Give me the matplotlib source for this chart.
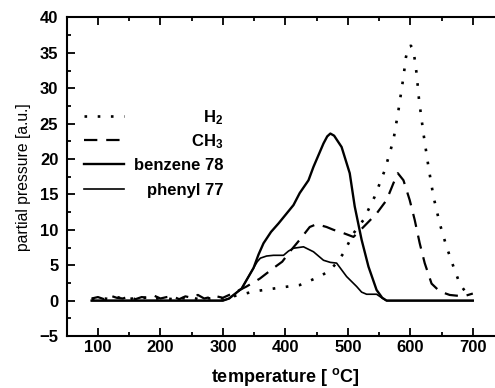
import numpy as np
import matplotlib
matplotlib.use('Agg')
import matplotlib.pyplot as plt
from matplotlib.ticker import MultipleLocator

plt.rcParams['font.family'] = 'Liberation Sans'
plt.rcParams['mathtext.fontset'] = 'custom'
plt.rcParams['mathtext.rm'] = 'Liberation Sans:bold'
plt.rcParams['mathtext.it'] = 'Liberation Sans:bold'
plt.rcParams['mathtext.bf'] = 'Liberation Sans:bold'

# ── data ──────────────────────────────────────────────────────────────────
t_benz = [90, 300, 310, 330, 349, 357, 365, 377, 389, 413, 423, 437, 445, 461,
          467, 472, 478, 490, 503, 511, 522, 533, 546, 555, 562, 700]
p_benz = [0, 0, 0.3, 1.7, 4.6, 6.5, 8.1, 9.7, 10.9, 13.5, 15.2, 17.0, 18.9, 22.2,
          23.2, 23.6, 23.3, 21.7, 18.0, 13.3, 8.6, 4.8, 1.5, 0.4, 0, 0]

t_phen = [90, 300, 310, 330, 345, 355, 360, 370, 381, 397, 405, 413, 429, 445,
          461, 472, 482, 498, 514, 522, 530, 546, 556, 562, 700]
p_phen = [0, 0, 0.3, 1.7, 4.0, 5.5, 6.0, 6.3, 6.4, 6.4, 7.0, 7.4, 7.6, 6.9,
          5.7, 5.4, 5.3, 3.4, 2.0, 1.2, 0.9, 0.9, 0.3, 0, 0]

t_base = [90, 100, 110, 120, 130, 140, 150, 160, 170, 180, 190, 200, 210, 220,
          230, 240, 250, 260, 270, 280, 290, 300]
h2_base = [0.2, 0.4, 0.3, 0.2, 0.5, 0.3, 0.2, 0.4, 0.3, 0.5, 0.2, 0.4, 0.3, 0.2,
           0.4, 0.3, 0.5, 0.2, 0.4, 0.3, 0.4, 0.3]
ch3_base = [0.3, 0.5, 0.2, 0.7, 0.4, 0.3, 0.6, 0.2, 0.5, 0.4, 0.7, 0.3, 0.5, 0.6,
            0.2, 0.6, 0.4, 0.8, 0.3, 0.5, 0.6, 0.4]

t_h2 = t_base + [310, 327, 350, 381, 405, 423, 455, 470, 482, 493, 509, 525, 543,
                 559, 573, 581, 589, 593, 597, 601, 605, 610, 614, 621, 629, 637,
                 647, 658, 669, 679, 690, 700]
p_h2 = h2_base + [0.5, 0.8, 1.3, 1.7, 2.0, 2.2, 3.4, 4.2, 5.3, 6.7, 9.5, 11.4, 14.7,
                  18.4, 22.7, 26.9, 31.6, 34.4, 35.9, 36.0, 35.4, 32.1, 28.3, 23.6,
                  18.9, 14.7, 10.9, 7.6, 4.8, 2.4, 1.0, 1.0]

t_ch3 = t_base + [310, 320, 338, 359, 381, 395, 407, 423, 439, 450, 466, 477, 488,
                  509, 525, 546, 562, 573, 580, 589, 599, 607, 615, 623, 634, 647,
                  663, 685, 700]
p_ch3 = ch3_base + [0.8, 1.2, 2.0, 3.1, 4.6, 5.5, 6.9, 8.6, 10.4, 10.8, 10.4, 10.0,
                    9.7, 9.0, 10.4, 12.3, 14.2, 16.6, 18.0, 17.0, 14.2, 11.4, 8.1,
                    5.3, 2.4, 1.3, 0.8, 0.6, 1.0]

labels = ['H$_2$', 'CH$_3$', 'benzene 78', 'phenyl 77']

# ── figure ────────────────────────────────────────────────────────────────
fig = plt.figure(figsize=(4.95, 3.88), dpi=100)
ax = fig.add_axes([0.1347, 0.134, 0.8836, 0.821])

styles = [dict(lw=1.9, ls=(0, (1, 4))),
          dict(lw=1.6, ls=(0, (6, 4))),
          dict(lw=1.7, ls='-'),
          dict(lw=1.2, ls='-')]
series = [(t_h2, p_h2), (t_ch3, p_ch3), (t_benz, p_benz), (t_phen, p_phen)]
for (t, p), st in zip(series, styles):
    ax.plot(t, p, color='black', **st)

ax.set_xlim(50, 750)
ax.set_ylim(-5, 40)
ax.xaxis.set_minor_locator(MultipleLocator(50))
ax.yaxis.set_major_locator(MultipleLocator(5))
ax.yaxis.set_minor_locator(MultipleLocator(2.5))
ax.set_xticks([100, 200, 300, 400, 500, 600, 700])

for s in ax.spines.values():
    s.set_linewidth(1.5)
ax.tick_params(which='both', direction='in', top=True, right=False, width=1.3)
ax.tick_params(which='major', length=5.5)
ax.tick_params(which='minor', length=3)
ax.tick_params(axis='y', pad=6)
ax.tick_params(axis='x', pad=3)
for lab in ax.get_xticklabels() + ax.get_yticklabels():
    lab.set_fontsize(12)
    lab.set_fontweight('bold')

ax.set_xlabel('temperature [ $^{o}$C]', fontsize=13, fontweight='bold', labelpad=8)
ax.set_ylabel('partial pressure [a.u.]', fontsize=11.3, labelpad=6)

# legend: sample line on the left, label right-aligned
line_y = [0.690, 0.614, 0.539, 0.461]
for yy, lab, st in zip(line_y, labels, styles):
    ax.plot([0.040, 0.131], [yy, yy], color='black', transform=ax.transAxes,
            clip_on=False, **st)
    ax.text(0.358, yy - 0.019, lab, transform=ax.transAxes, ha='right',
            va='baseline', fontsize=12, fontweight='bold')

fig.savefig('out.png', dpi=100)
